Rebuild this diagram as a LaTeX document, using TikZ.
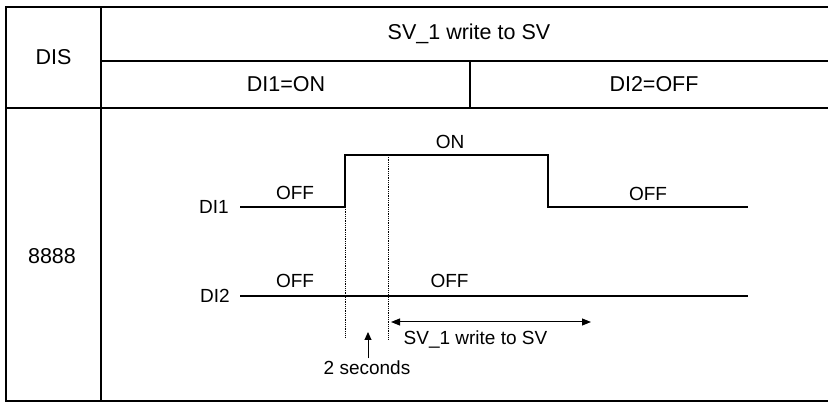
\documentclass[tikz,border=0pt]{standalone}
\usepackage{fontspec}
\setmainfont{Liberation Sans}
\usetikzlibrary{arrows.meta,positioning}

\begin{document}
\begin{tikzpicture}[x=1pt,y=-1pt,
  cell/.style={font=\fontsize{21.5}{25}\selectfont,inner sep=0pt},
  lbl/.style={font=\fontsize{19}{23}\selectfont,inner sep=0pt},
  grid/.style={line width=2pt},
  wave/.style={line width=1.3pt},
  guide/.style={densely dotted,line width=0.8pt},
  edge/.style={-{Triangle[length=8pt,width=7pt]},line width=1pt},
  span/.style={{Triangle[length=9pt,width=7pt]}-{Triangle[length=9pt,width=7pt]},line width=1pt}]
\useasboundingbox (0,0) rectangle (828,403);
% table
\draw[grid] (828,7) -- (6,7) -- (6,401) -- (828,401);
\draw[grid] (101,7) -- (101,401);
\draw[grid] (101,61) -- (828,61);
\draw[grid] (6,108) -- (828,108);
\draw[grid] (470,61) -- (470,108);
\node[cell] (dis) at (53.5,57.5) {DIS};
\node[cell] (head) at (469,34) {SV\_1 write to SV};
\node[cell] (on1) at (286,84.5) {DI1=ON};
\node[cell] (off2) at (654,84.5) {DI2=OFF};
\node[cell] (val) at (52,256) {8888};
% DI1
\coordinate (a0) at (240,207);
\coordinate (a1) at (345,207);
\coordinate (a2) at (345,155);
\coordinate (a3) at (548,155);
\coordinate (a4) at (548,207);
\coordinate (a5) at (748,207);
\draw[wave] (a0) -- (a1) -- (a2) -- (a3) -- (a4) -- (a5);
\node[lbl,left=11pt of a0] (di1) {DI1};
\node[lbl] (di1off) at (295,193) {OFF};
\node[lbl] (di1on) at (450,142) {ON};
\node[lbl] (di1off2) at (648,193.5) {OFF};
% DI2
\coordinate (b0) at (240,296);
\coordinate (b1) at (748,296);
\draw[wave] (b0) -- (b1);
\node[lbl,left=10pt of b0] (di2) {DI2};
\node[lbl] (di2off) at (295,281) {OFF};
\node[lbl] (di2off2) at (449.5,280.5) {OFF};
% timing
\coordinate (g1) at (345,338);
\coordinate (g2) at (388,155);
\coordinate (g3) at (388,340);
\draw[guide] (a1) -- (g1);
\draw[guide] (g2) -- (g3);
\coordinate (w0) at (391,322);
\coordinate (w1) at (591,322);
\draw[span] (w0) -- (w1);
\node[lbl] (write) at (475.5,340) {SV\_1 write to SV};
\node[lbl] (sec) at (367,367.5) {2 seconds};
\coordinate (up) at (368,332);
\draw[edge] (sec.north -| up) ++(0,-2) -- (up);
\end{tikzpicture}
\end{document}
